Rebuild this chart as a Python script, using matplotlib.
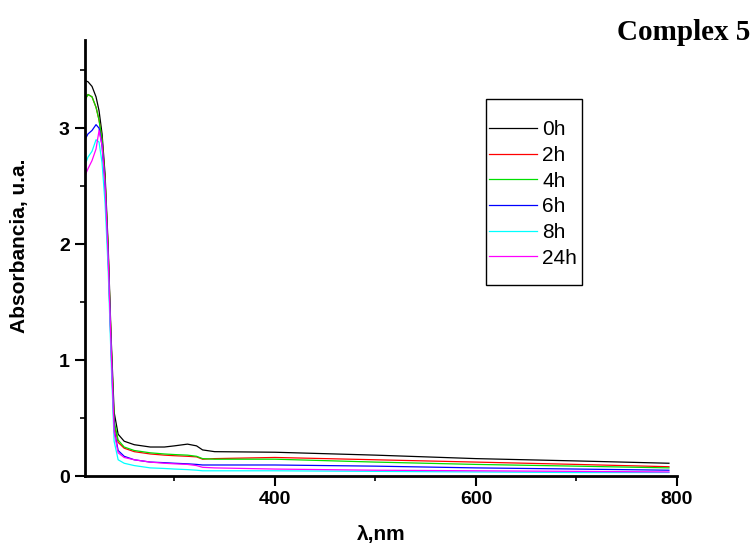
import matplotlib
matplotlib.use("Agg")
import matplotlib.pyplot as plt
from matplotlib.patches import Rectangle
from matplotlib.ticker import MultipleLocator

# wavelength grid (nm) and absorbance of each time series
wl = [211, 214, 218, 222, 225, 228, 231, 234, 237, 240, 244, 250, 260, 276,
      290, 300, 313, 322, 328, 340, 400, 500, 600, 700, 792]

abs_0h = [3.41, 3.40, 3.36, 3.27, 3.15, 2.95, 2.60, 2.00, 1.20, 0.55, 0.36, 0.30, 0.27,
          0.25, 0.25, 0.26, 0.275, 0.26, 0.225, 0.21, 0.205, 0.18, 0.15, 0.13, 0.11]
abs_2h = [3.25, 3.29, 3.27, 3.18, 3.07, 2.90, 2.55, 1.95, 1.15, 0.45, 0.29, 0.24, 0.21,
          0.19, 0.18, 0.175, 0.17, 0.165, 0.145, 0.15, 0.16, 0.14, 0.12, 0.10, 0.08]
abs_4h = [3.24, 3.29, 3.27, 3.18, 3.07, 2.90, 2.55, 1.95, 1.15, 0.47, 0.31, 0.25, 0.22,
          0.20, 0.19, 0.185, 0.18, 0.17, 0.15, 0.145, 0.145, 0.12, 0.10, 0.085, 0.07]
abs_6h = [2.90, 2.95, 2.98, 3.03, 3.00, 2.85, 2.50, 1.90, 1.10, 0.40, 0.22, 0.17, 0.14,
          0.12, 0.115, 0.11, 0.105, 0.10, 0.095, 0.095, 0.095, 0.085, 0.07, 0.06, 0.05]
abs_8h = [2.68, 2.75, 2.80, 2.90, 2.88, 2.70, 2.35, 1.80, 1.00, 0.30, 0.14, 0.11, 0.09,
          0.07, 0.065, 0.06, 0.055, 0.05, 0.045, 0.045, 0.045, 0.04, 0.035, 0.03, 0.03]
abs_24h = [2.59, 2.65, 2.72, 2.82, 2.98, 2.85, 2.50, 1.90, 1.10, 0.38, 0.20, 0.16, 0.14,
           0.12, 0.11, 0.105, 0.10, 0.09, 0.075, 0.07, 0.06, 0.05, 0.045, 0.04, 0.035]

labels = ["0h", "2h", "4h", "6h", "8h", "24h"]
colors = ["black", "red", "#00e000", "blue", "cyan", "magenta"]
series = [abs_0h, abs_2h, abs_4h, abs_6h, abs_8h, abs_24h]

plt.rcParams['font.family'] = ['Liberation Sans', 'DejaVu Sans']

fig = plt.figure(figsize=(7.56, 5.51), dpi=100)
ax = fig.add_axes([0.1124, 0.1361, 0.7831, 0.7913])

for y, c, lab in zip(series, colors, labels):
    ax.plot(wl, y, color=c, lw=0.9, label=lab)

ax.set_xlim(211, 800)
ax.set_ylim(0, 3.76)
ax.xaxis.set_major_locator(MultipleLocator(200))
ax.xaxis.set_minor_locator(MultipleLocator(100))
ax.yaxis.set_major_locator(MultipleLocator(1))
ax.yaxis.set_minor_locator(MultipleLocator(0.5))

for s in ['top', 'right']:
    ax.spines[s].set_visible(False)
for s in ['left', 'bottom']:
    ax.spines[s].set_linewidth(2)

ax.tick_params(which='major', length=7, width=1.5, labelsize=14, pad=4)
ax.tick_params(which='minor', length=3.5, width=1.2)
for t in ax.get_xticklabels() + ax.get_yticklabels():
    t.set_fontweight('bold')

ax.set_xlabel("λ,nm", fontsize=15, fontweight='bold', labelpad=12)
ax.set_ylabel("Absorbancia, u.a.", fontsize=15, fontweight='bold')
ax.yaxis.set_label_coords(-0.094, 0.528)

# legend box drawn separately (tall frame, tight side padding)
ax.add_patch(Rectangle((0.6774, 0.438), 0.1621, 0.4267, transform=ax.transAxes,
                       fill=False, edgecolor='black', lw=1.0, clip_on=False))
leg = ax.legend(loc='center left', bbox_to_anchor=(0.6774, 0.647), fontsize=15,
                frameon=False, handlelength=2.3, handletextpad=0.25,
                labelspacing=0.32, borderpad=0.15, borderaxespad=0)

fig.text(0.993, 0.965, "Complex 5", family='Liberation Serif', fontsize=21,
         fontweight='bold', ha='right', va='top')

fig.savefig("out.png", dpi=100)
